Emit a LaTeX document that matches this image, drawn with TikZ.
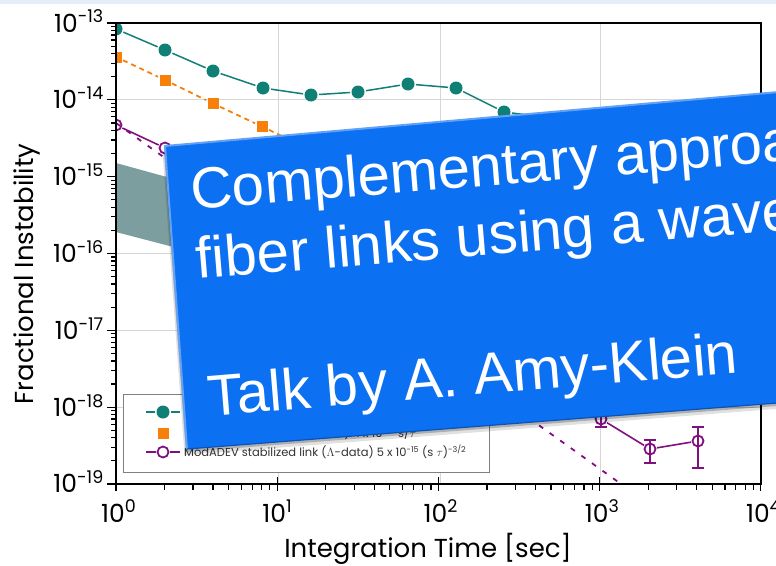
\documentclass[tikz,border=0pt]{standalone}
\usepackage{fontspec}
\setmainfont{Poppins}
\newfontfamily\boxfont{Liberation Sans}
\usetikzlibrary{arrows.meta}
\usetikzlibrary{positioning}
\definecolor{tealdata}{RGB}{16,128,118}
\definecolor{orangedata}{RGB}{247,128,10}
\definecolor{purpledata}{RGB}{128,16,128}
\definecolor{bandgray}{RGB}{124,158,158}
\definecolor{gridgray}{RGB}{214,214,214}
\definecolor{boxblue}{RGB}{12,112,242}
\definecolor{slideband}{RGB}{228,238,251}
\tikzset{
    marker/.style = {inner sep=0pt, outer sep=1.5pt},
    teal_node/.style = {marker, circle, fill=tealdata, minimum size=13pt},
    orange_node/.style = {marker, rectangle, fill=orangedata, minimum size=11pt},
    purple_node/.style = {marker, circle, draw=purpledata, line width=1.8pt, minimum size=11pt},
    teal_line/.style = {tealdata, line width=1.5pt},
    orange_line/.style = {orangedata, line width=1.8pt, dash pattern=on 5pt off 4pt},
    purple_line/.style = {purpledata, line width=1.6pt},
    fit_line/.style = {purpledata, line width=1.8pt, dash pattern=on 5pt off 8pt},
    err_bar/.style = {purpledata, line width=1.6pt, {Bar[width=12pt]}-{Bar[width=12pt]}},
    grid_line/.style = {gridgray, line width=0.8pt},
    axis_tick/.style = {black, line width=1.2pt},
    tick_label/.style = {inner sep=0pt, font=\fontsize{25}{25}\selectfont},
    axis_title/.style = {inner sep=0pt, font=\fontsize{26}{26}\selectfont},
    leg_text/.style = {inner sep=0pt, text=black!80, font=\fontsize{11.5}{11.5}\selectfont},
    box_text/.style = {inner sep=0pt, anchor=base west, text=white, font=\boxfont\fontsize{58}{58}\selectfont}
}
\begin{document}
\begin{tikzpicture}[x=1pt, y=-1pt]
    \clip (0,0) rectangle (776,565);
    \fill[white] (0,0) rectangle (776,565);
    \fill[slideband] (0,0) rectangle (776,3.5);

    \foreach \x in {278,440,600}
        \draw[grid_line] (\x,23) -- (\x,484);
    \foreach \k in {1,...,5}
        \draw[grid_line] (116,{23+76.83*\k}) -- (761,{23+76.83*\k});

    \begin{scope}
        \clip (116,23) rectangle (761,484);
        \fill[bandgray] (116,163) -- (250,200) -- (250,267) -- (116,232) -- cycle;

        \coordinate (fitA) at (116,123);
        \coordinate (fitB) at (761,584);
        \draw[fit_line] (fitA) -- (fitB);

        \foreach \n/\x/\y in {1/116/29, 2/165/50, 3/213/71, 4/263/88, 5/311/95,
                              6/358/92, 7/408/84, 8/456/88, 9/504/112, 10/552/118}
            \node[teal_node] (t\n) at (\x,\y) {};
        \draw[teal_line] (t1) -- (t2) -- (t3) -- (t4) -- (t5) -- (t6)
                         -- (t7) -- (t8) -- (t9) -- (t10);

        \foreach \n/\x/\y in {1/116/57, 2/165/80, 3/213/103.5, 4/262/126.5, 5/310/149.6}
            \node[orange_node] (o\n) at (\x,\y) {};
        \draw[orange_line] (o1) -- (o2) -- (o3) -- (o4) -- (o5);

        \foreach \n/\x/\y in {1/116/125, 2/165/148, 3/213/170,
                              11/601/419, 12/650/449, 13/698/441}
            \node[purple_node] (p\n) at (\x,\y) {};
        \draw[purple_line] (p1) -- (p2) -- (p3);
        \draw[purple_line] (p11) -- (p12) -- (p13);

        \coordinate (e11t) at (601,409);
        \coordinate (e11b) at (601,428);
        \coordinate (e12t) at (650,439);
        \coordinate (e12b) at (650,464);
        \coordinate (e13t) at (698,426);
        \coordinate (e13b) at (698,469);
        \draw[err_bar] (e11t) -- (e11b);
        \draw[err_bar] (e12t) -- (e12b);
        \draw[err_bar] (e13t) -- (e13b);
    \end{scope}

    \draw[black, line width=1.2pt] (116,484) -- (116,23) -- (761,23) -- (761,484) -- cycle;

    \foreach \d in {0,...,4}
        \draw[axis_tick] ({116+161.2*\d},477) -- ({116+161.2*\d},491);
    \foreach \d in {0,...,3}
        \foreach \m in {2,...,9}
            \draw[axis_tick] ({116+161.2*(\d+log10(\m))},484) -- ++(0,6);
    \foreach \k in {0,...,6}
        \draw[axis_tick] (107,{23+76.83*\k}) -- (116,{23+76.83*\k});
    \foreach \k in {0,...,5}
        \foreach \m in {2,...,9}
            \draw[axis_tick] (116,{23+76.83*(\k+1-log10(\m))}) -- ++(-5,0);

    \foreach \k/\e in {0/13,1/14,2/15,3/16,4/17,5/18,6/19}
        \node[tick_label, anchor=base east] (ylab\e) at (104,{23+76.83*\k+9}) {10\textsuperscript{-\e}};
    \foreach \d in {0,...,4}
        \node[tick_label, anchor=base west] (xlab\d) at ({101+161.2*\d},522) {10\textsuperscript{\d}};

    \node[axis_title, anchor=base] (xtitle) at (428,557) {Integration Time [sec]};
    \node[axis_title, anchor=base, rotate=90] (ytitle) at (33,274) {Fractional Instability};

    \draw[gray, line width=1pt, fill=white] (123,394) rectangle (489,472);
    \coordinate (l1a) at (146,412);
    \coordinate (l1b) at (180,412);
    \node[teal_node] (lm1) at (163,412) {};
    \draw[teal_line] (l1a) -- (lm1) -- (l1b);
    \node[orange_node] (lm2) at (163,433) {};
    \coordinate (l3a) at (146,452);
    \coordinate (l3b) at (180,452);
    \node[purple_node] (lm3) at (163,452) {};
    \draw[purple_line] (l3a) -- (lm3) -- (l3b);
    \node[leg_text, right=13pt of lm1] (leg1) {ADEV free-running link};
    \node[leg_text, right=15pt of lm2] (leg2) {ADEV stabilized link ($\Lambda$-data) 4 x 10\textsuperscript{-14} s/$\tau$};
    \node[leg_text, right=14pt of lm3] (leg3) {ModADEV stabilized link ($\Lambda$-data) 5 x 10\textsuperscript{-15} (s $\tau$)\textsuperscript{-3/2}};

    \coordinate (tl) at (165,146);
    \coordinate (tr) at (790,91);
    \coordinate (br) at (790,402);
    \coordinate (bl) at (187,449);
    \fill[black, opacity=0.12] ([shift={(-2.5,6)}]tl) -- ([shift={(-2.5,6)}]tr) -- ([shift={(-2.5,6)}]br) -- ([shift={(-2.5,6)}]bl) -- cycle;
    \fill[black, opacity=0.22] ([shift={(-1.2,3)}]tl) -- ([shift={(-1.2,3)}]tr) -- ([shift={(-1.2,3)}]br) -- ([shift={(-1.2,3)}]bl) -- cycle;
    \fill[boxblue] (tl) -- (tr) -- (br) -- (bl) -- cycle;
    \draw[boxblue!65!white, line width=2pt] (bl) -- (tl) -- (tr);
    \draw[boxblue!75!black, line width=1.2pt] (bl) -- (br);

    \begin{scope}[shift={(192,210)}, rotate=4.7, transform shape]
        \node[box_text] (line1) at (0,0) {Complementary approach};
        \node[box_text] (line2) at (0,69) {fiber links using a wavelength};
        \node[box_text] (line3) at (0,207) {Talk by A. Amy-Klein};
    \end{scope}
\end{tikzpicture}
\end{document}
